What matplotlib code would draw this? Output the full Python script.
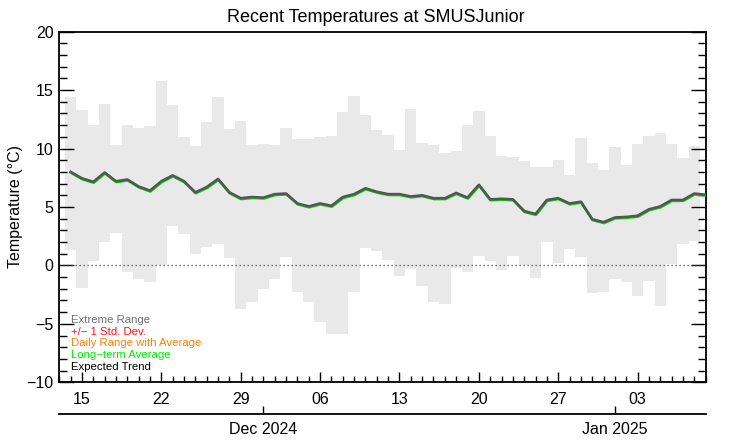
import numpy as np
import matplotlib
matplotlib.use('Agg')
import matplotlib.pyplot as plt
import matplotlib.dates as mdates
import matplotlib.transforms as mtransforms
from matplotlib.ticker import MultipleLocator, FixedLocator

plt.rcParams['font.family'] = ['Liberation Sans', 'DejaVu Sans']

# daily record extremes (grey bars), Nov 14 2024 .. Jan 8 2025
rec_high = [14.4, 13.3, 12.0, 13.8, 10.3, 12.0, 11.8, 11.9, 15.8, 13.7,
            11.0, 10.2, 12.3, 14.4, 11.7, 12.4, 10.3, 10.4, 10.3, 11.8,
            10.8, 10.8, 11.0, 11.1, 13.1, 14.5, 12.9, 11.6, 11.2, 9.9,
            13.4, 10.5, 10.3, 9.6, 9.8, 12.0, 13.2, 11.1, 9.4, 9.3,
            8.9, 8.4, 8.4, 9.0, 7.7, 10.9, 8.8, 8.2, 10.1, 8.6,
            10.4, 11.1, 11.3, 10.4, 9.2, 10.2]
rec_low = [1.3, -1.9, 0.4, 2.0, 2.8, -0.55, -1.2, -1.4, 0.0, 3.4,
           2.7, 1.0, 1.6, 1.8, 0.6, -3.7, -3.1, -2.0, -1.2, 0.7,
           -2.3, -3.1, -4.8, -5.9, -5.9, -2.3, 1.5, 1.2, 0.45, -0.9,
           -0.3, -1.8, -3.1, -3.3, -0.2, -0.55, 0.8, 0.4, -0.35, 0.8,
           0.05, -1.1, 2.0, 0.2, 1.4, 0.7, -2.4, -2.3, -1.15, -1.4,
           -2.6, -1.35, -3.45, 0.1, 1.8, 2.1]

# expected trend / long-term average, Nov 14 2024 .. Jan 9 2025
trend = [8.0, 7.45, 7.15, 7.95, 7.2, 7.35, 6.75, 6.4, 7.2, 7.7,
         7.2, 6.25, 6.7, 7.4, 6.25, 5.75, 5.85, 5.8, 6.1, 6.15,
         5.3, 5.05, 5.3, 5.1, 5.85, 6.1, 6.6, 6.3, 6.1, 6.1,
         5.9, 6.0, 5.75, 5.75, 6.2, 5.8, 6.9, 5.65, 5.7, 5.65,
         4.65, 4.4, 5.6, 5.75, 5.3, 5.45, 3.95, 3.7, 4.1, 4.15,
         4.25, 4.8, 5.05, 5.6, 5.6, 6.15, 6.05]

legend_labels = ['Extreme Range', '+/\u2212 1 Std. Dev.', 'Daily Range with Average',
                 'Long\u2212term Average', 'Expected Trend']
legend_colors = ['#707070', '#ff1010', '#ff8000', '#00ee00', '#000000']

bar_days = np.arange(np.datetime64('2024-11-14'), np.datetime64('2025-01-09'))
trend_days = np.arange(np.datetime64('2024-11-14'), np.datetime64('2025-01-10'))
bar_x = mdates.date2num(bar_days.astype('datetime64[s]').astype(object))
trend_x = mdates.date2num(trend_days.astype('datetime64[s]').astype(object))

fig = plt.figure(figsize=(7.42, 4.45), dpi=100)
ax = fig.add_axes([0.0799, 0.1409, 0.8711, 0.7879])

hi = np.array(rec_high)
lo = np.array(rec_low)
ax.bar(bar_x, hi - lo, bottom=lo, width=1.0, color='#e9e9e9', linewidth=0, zorder=1)

ax.axhline(0, color='#444444', lw=0.9, ls=(0, (1, 2.2)), zorder=2)

shift = mtransforms.offset_copy(ax.transData, fig=fig, x=0.4, y=-0.8, units='dots')
ax.plot(trend_x, trend, color='#00e000', lw=2.0, transform=shift, zorder=3,
        solid_joinstyle='round')
ax.plot(trend_x, trend, color='#555555', lw=1.9, zorder=4, solid_joinstyle='round')

x0 = mdates.date2num(np.datetime64('2024-11-13T00:00:00').astype(object))
x1 = mdates.date2num(np.datetime64('2025-01-09T00:00:00').astype(object))
ax.set_xlim(x0, x1)
ax.set_ylim(-10, 20)

major_days = np.arange(np.datetime64('2024-11-15'), np.datetime64('2025-01-10'), 7)
ax.xaxis.set_major_locator(FixedLocator(mdates.date2num(major_days.astype('datetime64[s]').astype(object))))
ax.xaxis.set_major_formatter(mdates.DateFormatter('%d'))
ax.xaxis.set_minor_locator(mdates.DayLocator())
ax.yaxis.set_major_locator(MultipleLocator(5))
ax.yaxis.set_minor_locator(MultipleLocator(1))

ax.tick_params(axis='x', which='major', direction='in', length=7, width=1,
               top=True, bottom=True, labelsize=11.5, pad=7)
ax.tick_params(axis='x', which='minor', direction='in', length=4, width=1,
               top=True, bottom=True)
ax.tick_params(axis='y', which='major', direction='in', length=11, width=1,
               left=True, right=True, labelsize=11.5, pad=4)
ax.tick_params(axis='y', which='minor', direction='in', length=6, width=1,
               left=True, right=True)
for s in ax.spines.values():
    s.set_linewidth(1.3)

ax.set_ylabel('Temperature (\u00b0C)', fontsize=11.5, labelpad=2.5)
fig.text(0.507, 0.961, 'Recent Temperatures at SMUSJunior', fontsize=13,
         ha='center', va='center')

# legend texts
for k, (lab, col) in enumerate(zip(legend_labels, legend_colors)):
    ax.text(0.018, 0.178 - 0.0335 * k, lab, color=col, fontsize=8.2,
            transform=ax.transAxes, ha='left', va='center')

# month axis below
ax2 = ax.twiny()
ax2.set_xlim(x0, x1)
for name in ['top', 'left', 'right']:
    ax2.spines[name].set_visible(False)
ax2.spines['bottom'].set_position(('outward', 22.8))
ax2.spines['bottom'].set_linewidth(1.3)
ax2.xaxis.set_ticks_position('bottom')
month_days = [np.datetime64('2024-12-01T00:00:00'), np.datetime64('2025-01-01T00:00:00')]
ax2.set_xticks(mdates.date2num([d.astype(object) for d in month_days]))
ax2.set_xticklabels(['Dec 2024', 'Jan 2025'])
ax2.tick_params(axis='x', direction='in', length=6, width=1, labelsize=11.5, pad=6)

fig.savefig('out.png', dpi=100)
